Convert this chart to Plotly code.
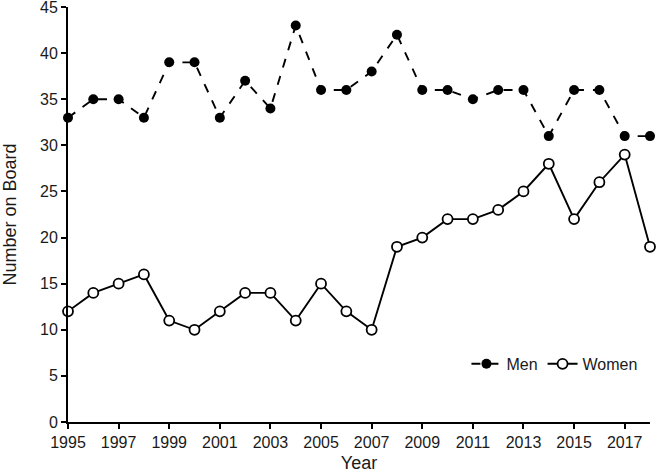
import plotly.graph_objects as go

years = list(range(1995, 2019))
men = [33, 35, 35, 33, 39, 39, 33, 37, 34, 43, 36, 36, 38, 42, 36, 36, 35, 36, 36, 31, 36, 36, 31, 31]
women = [12, 14, 15, 16, 11, 10, 12, 14, 14, 11, 15, 12, 10, 19, 20, 22, 22, 23, 25, 28, 22, 26, 29, 19]
xticks = list(range(1995, 2019, 2))
yticks = list(range(0, 50, 5))

fig = go.Figure()
fig.add_trace(go.Scatter(
    x=years, y=men, name="Men", mode="lines+markers",
    line=dict(color="black", width=1.9, dash="dash"),
    marker=dict(color="black", size=10, symbol="circle"),
    cliponaxis=False,
))
fig.add_trace(go.Scatter(
    x=years, y=women, name="Women", mode="lines+markers",
    line=dict(color="black", width=1.9),
    marker=dict(color="white", size=10, symbol="circle", line=dict(color="black", width=1.8)),
    cliponaxis=False,
))

fam = "Liberation Sans, Arial, sans-serif"
tick_font = dict(family=fam, size=16, color="#1a1a1a")
title_font = dict(family=fam, size=18, color="#1a1a1a")
fig.update_layout(
    width=657, height=473,
    margin=dict(l=68, r=7, t=7, b=51, autoexpand=False),
    plot_bgcolor="white", paper_bgcolor="white",
    font=tick_font,
    showlegend=True,
    legend=dict(orientation="h", x=0.987, xanchor="right", y=0.14, yanchor="middle",
                font=dict(family=fam, size=16, color="#1a1a1a"), itemwidth=30,
                bgcolor="rgba(0,0,0,0)"),
    xaxis=dict(range=[1995, 2018], tickvals=xticks, ticks="outside", ticklen=5, tickwidth=1.5,
               tickcolor="black", showline=True, linecolor="black", linewidth=2,
               showgrid=False, zeroline=False, tickfont=tick_font, automargin=False,
               ticklabeloverflow="allow",
               title=dict(text="Year", font=title_font, standoff=14)),
    yaxis=dict(range=[0, 45], tickvals=yticks, ticks="outside", ticklen=5, tickwidth=1.5,
               tickcolor="black", showline=True, linecolor="black", linewidth=2,
               showgrid=False, zeroline=False, tickfont=tick_font, automargin=False,
               ticklabeloverflow="allow",
               title=dict(text="Number on Board", font=title_font, standoff=21)),
)

fig.write_html("out.html", config={"displayModeBar": False},
               post_script="document.body.style.margin='0';")
